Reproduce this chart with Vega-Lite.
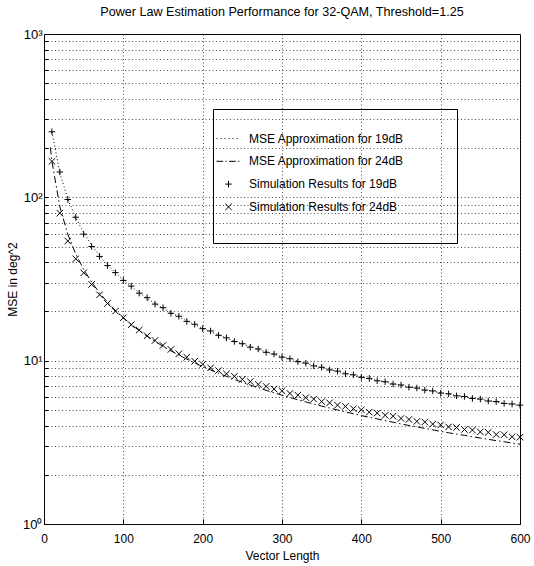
{
  "$schema": "https://vega.github.io/schema/vega-lite/v6.json",
  "width": 476,
  "height": 490,
  "autosize": "none",
  "padding": {"left": 44, "top": 34, "right": 14, "bottom": 42},
  "background": "white",
  "title": {"text": "Power Law Estimation Performance for 32-QAM, Threshold=1.25", "font": "Liberation Sans", "fontSize": 12.6, "fontWeight": "normal", "color": "black", "anchor": "middle", "offset": 9},
  "config": {
    "view": {"stroke": "black", "strokeWidth": 1},
    "axis": {"labelFont": "Liberation Sans", "titleFont": "Liberation Sans", "labelFontSize": 12, "titleFontSize": 12, "titleFontWeight": "normal", "labelColor": "black", "titleColor": "black", "tickColor": "black", "domain": false, "grid": true, "gridDash": [1, 2.5], "gridColor": "#222", "gridOpacity": 0.8, "gridWidth": 1}
  },
  "data": {"values": [
    {"N": 8, "approx24": 202},
    {"N": 10, "approx19": 252, "approx24": 166, "sim19": 252, "sim24": 166},
    {"N": 20, "approx19": 141, "approx24": 87.5, "sim19": 143, "sim24": 80},
    {"N": 30, "approx19": 97.9, "approx24": 59.4, "sim19": 97, "sim24": 54},
    {"N": 40, "approx19": 74.9, "approx24": 45.0, "sim19": 75.5, "sim24": 42},
    {"N": 50, "approx19": 60.7, "approx24": 36.2, "sim19": 59.5, "sim24": 34.5},
    {"N": 60, "approx19": 51.0, "approx24": 30.3, "sim19": 50, "sim24": 29.3},
    {"N": 70, "approx19": 44.0, "approx24": 26.0, "sim19": 43.5, "sim24": 25.3},
    {"N": 80, "approx19": 38.7, "approx24": 22.8, "sim19": 38.2, "sim24": 22.4},
    {"N": 90, "approx19": 34.5, "approx24": 20.3, "sim19": 34.6, "sim24": 20.1},
    {"N": 100, "approx19": 31.2, "approx24": 18.3, "sim19": 31.0, "sim24": 18.3},
    {"N": 110, "approx19": 28.4, "approx24": 16.65, "sim19": 28.6, "sim24": 16.6},
    {"N": 120, "approx19": 26.1, "approx24": 15.28, "sim19": 25.9, "sim24": 15.4},
    {"N": 130, "approx19": 24.1, "approx24": 14.11, "sim19": 24.3, "sim24": 14.2},
    {"N": 140, "approx19": 22.4, "approx24": 13.11, "sim19": 22.2, "sim24": 13.3},
    {"N": 150, "approx19": 20.96, "approx24": 12.25, "sim19": 21.1, "sim24": 12.4},
    {"N": 160, "approx19": 19.67, "approx24": 11.49, "sim19": 19.5, "sim24": 11.72},
    {"N": 170, "approx19": 18.53, "approx24": 10.81, "sim19": 18.7, "sim24": 11.02},
    {"N": 180, "approx19": 17.52, "approx24": 10.22, "sim19": 17.4, "sim24": 10.49},
    {"N": 190, "approx19": 16.61, "approx24": 9.68, "sim19": 16.7, "sim24": 9.92},
    {"N": 200, "approx19": 15.79, "approx24": 9.20, "sim19": 15.7, "sim24": 9.50},
    {"N": 210, "approx19": 15.04, "approx24": 8.77, "sim19": 15.2, "sim24": 9.04},
    {"N": 220, "approx19": 14.37, "approx24": 8.37, "sim19": 14.3, "sim24": 8.69},
    {"N": 230, "approx19": 13.75, "approx24": 8.01, "sim19": 13.8, "sim24": 8.30},
    {"N": 240, "approx19": 13.18, "approx24": 7.68, "sim19": 13.1, "sim24": 8.02},
    {"N": 250, "approx19": 12.66, "approx24": 7.37, "sim19": 12.7, "sim24": 7.68},
    {"N": 260, "approx19": 12.18, "approx24": 7.09, "sim19": 12.1, "sim24": 7.45},
    {"N": 270, "approx19": 11.73, "approx24": 6.83, "sim19": 11.8, "sim24": 7.16},
    {"N": 280, "approx19": 11.32, "approx24": 6.58, "sim19": 11.25, "sim24": 6.96},
    {"N": 290, "approx19": 10.93, "approx24": 6.36, "sim19": 10.98, "sim24": 6.70},
    {"N": 300, "approx19": 10.57, "approx24": 6.15, "sim19": 10.5, "sim24": 6.54},
    {"N": 310, "approx19": 10.23, "approx24": 5.95, "sim19": 10.28, "sim24": 6.30},
    {"N": 320, "approx19": 9.92, "approx24": 5.76, "sim19": 9.86, "sim24": 6.15},
    {"N": 330, "approx19": 9.62, "approx24": 5.59, "sim19": 9.66, "sim24": 5.94},
    {"N": 340, "approx19": 9.34, "approx24": 5.43, "sim19": 9.29, "sim24": 5.82},
    {"N": 350, "approx19": 9.07, "approx24": 5.27, "sim19": 9.11, "sim24": 5.62},
    {"N": 360, "approx19": 8.82, "approx24": 5.13, "sim19": 8.77, "sim24": 5.52},
    {"N": 370, "approx19": 8.59, "approx24": 4.99, "sim19": 8.63, "sim24": 5.34},
    {"N": 380, "approx19": 8.36, "approx24": 4.86, "sim19": 8.31, "sim24": 5.25},
    {"N": 390, "approx19": 8.15, "approx24": 4.73, "sim19": 8.19, "sim24": 5.08},
    {"N": 400, "approx19": 7.95, "approx24": 4.61, "sim19": 7.91, "sim24": 5.00},
    {"N": 410, "approx19": 7.75, "approx24": 4.50, "sim19": 7.79, "sim24": 4.84},
    {"N": 420, "approx19": 7.57, "approx24": 4.40, "sim19": 7.53, "sim24": 4.78},
    {"N": 430, "approx19": 7.40, "approx24": 4.29, "sim19": 7.43, "sim24": 4.63},
    {"N": 440, "approx19": 7.23, "approx24": 4.20, "sim19": 7.19, "sim24": 4.57},
    {"N": 450, "approx19": 7.07, "approx24": 4.10, "sim19": 7.10, "sim24": 4.43},
    {"N": 460, "approx19": 6.92, "approx24": 4.01, "sim19": 6.88, "sim24": 4.37},
    {"N": 470, "approx19": 6.77, "approx24": 3.93, "sim19": 6.80, "sim24": 4.25},
    {"N": 480, "approx19": 6.63, "approx24": 3.85, "sim19": 6.60, "sim24": 4.21},
    {"N": 490, "approx19": 6.50, "approx24": 3.77, "sim19": 6.53, "sim24": 4.09},
    {"N": 500, "approx19": 6.37, "approx24": 3.69, "sim19": 6.33, "sim24": 4.04},
    {"N": 510, "approx19": 6.24, "approx24": 3.62, "sim19": 6.27, "sim24": 3.93},
    {"N": 520, "approx19": 6.12, "approx24": 3.55, "sim19": 6.09, "sim24": 3.90},
    {"N": 530, "approx19": 6.01, "approx24": 3.49, "sim19": 6.04, "sim24": 3.79},
    {"N": 540, "approx19": 5.90, "approx24": 3.42, "sim19": 5.87, "sim24": 3.76},
    {"N": 550, "approx19": 5.79, "approx24": 3.36, "sim19": 5.82, "sim24": 3.66},
    {"N": 560, "approx19": 5.69, "approx24": 3.30, "sim19": 5.66, "sim24": 3.64},
    {"N": 570, "approx19": 5.59, "approx24": 3.24, "sim19": 5.62, "sim24": 3.53},
    {"N": 580, "approx19": 5.49, "approx24": 3.19, "sim19": 5.47, "sim24": 3.52},
    {"N": 590, "approx19": 5.40, "approx24": 3.13, "sim19": 5.43, "sim24": 3.42},
    {"N": 600, "approx19": 5.31, "approx24": 3.08, "sim19": 5.34, "sim24": 3.40}
  ]},
  "transform": [
    {"fold": ["approx19", "approx24", "sim19", "sim24"], "as": ["series", "mse"]},
    {"filter": "isValid(datum.mse)"}
  ],
  "encoding": {
    "x": {"field": "N", "type": "quantitative", "scale": {"domain": [0, 600], "nice": false, "zero": false},
      "axis": {"title": "Vector Length", "values": [0, 100, 200, 300, 400, 500, 600], "tickSize": -5, "labelPadding": 14, "titlePadding": 6, "labelFlush": false}},
    "y": {"field": "mse", "type": "quantitative", "scale": {"type": "log", "domain": [1, 1000], "nice": false},
      "axis": {"title": "MSE in deg^2", "values": [1, 2, 3, 4, 5, 6, 7, 8, 9, 10, 20, 30, 40, 50, 60, 70, 80, 90, 100, 200, 300, 400, 500, 600, 700, 800, 900, 1000],
        "labelExpr": "datum.value == 1 ? '10⁰' : datum.value == 10 ? '10¹' : datum.value == 100 ? '10²' : datum.value == 1000 ? '10³' : ''",
        "labelOverlap": false, "tickSize": -4, "labelPadding": 6, "titlePadding": 3, "labelFontSize": 13}}
  },
  "layer": [
    {
      "transform": [{"filter": "indexof(datum.series, 'approx') == 0"}],
      "mark": {"type": "line", "color": "black", "strokeWidth": 1},
      "encoding": {
        "strokeDash": {"field": "series", "type": "nominal", "scale": {"domain": ["approx19", "approx24"], "range": [[1, 2.5], [7, 3, 1.5, 3]]}, "legend": null}
      }
    },
    {
      "transform": [{"filter": "indexof(datum.series, 'sim') == 0"}],
      "mark": {"type": "point", "filled": false, "color": "black", "strokeWidth": 1, "size": 576, "opacity": 1},
      "encoding": {
        "shape": {"field": "series", "type": "nominal",
          "scale": {"domain": ["approx19", "approx24", "sim19", "sim24"],
            "range": ["M-1,0H-0.92M-0.67,0H-0.59M-0.33,0H-0.25M0,0H0.08M0.33,0H0.41M0.67,0H0.75", "M-1,0H-0.45M-0.25,0H-0.15M0.05,0H0.6M0.8,0H0.9", "M-0.27,0H0.27M0,-0.27V0.27", "M-0.27,-0.27L0.27,0.27M-0.27,0.27L0.27,-0.27"]},
          "legend": {"orient": "none", "legendX": 169, "legendY": 75, "title": "\u2800", "titleOrient": "bottom", "titleFontSize": 8, "titlePadding": 5, "strokeColor": "black", "fillColor": "transparent", "padding": 17, "symbolOffset": -14, "symbolSize": 576, "symbolStrokeColor": "black", "symbolStrokeWidth": 1, "symbolFillColor": "transparent", "labelFont": "Liberation Sans", "labelFontSize": 12, "labelColor": "black", "labelOffset": 8, "rowPadding": 3.8, "labelLimit": 400,
            "labelExpr": "(datum.label == 'approx19' ? 'MSE Approximation for 19dB' : datum.label == 'approx24' ? 'MSE Approximation for 24dB' : datum.label == 'sim19' ? 'Simulation Results for 19dB' : 'Simulation Results for 24dB') + '\u2800\u2800\u2800\u2800'"}
        }
      }
    }
  ]
}
